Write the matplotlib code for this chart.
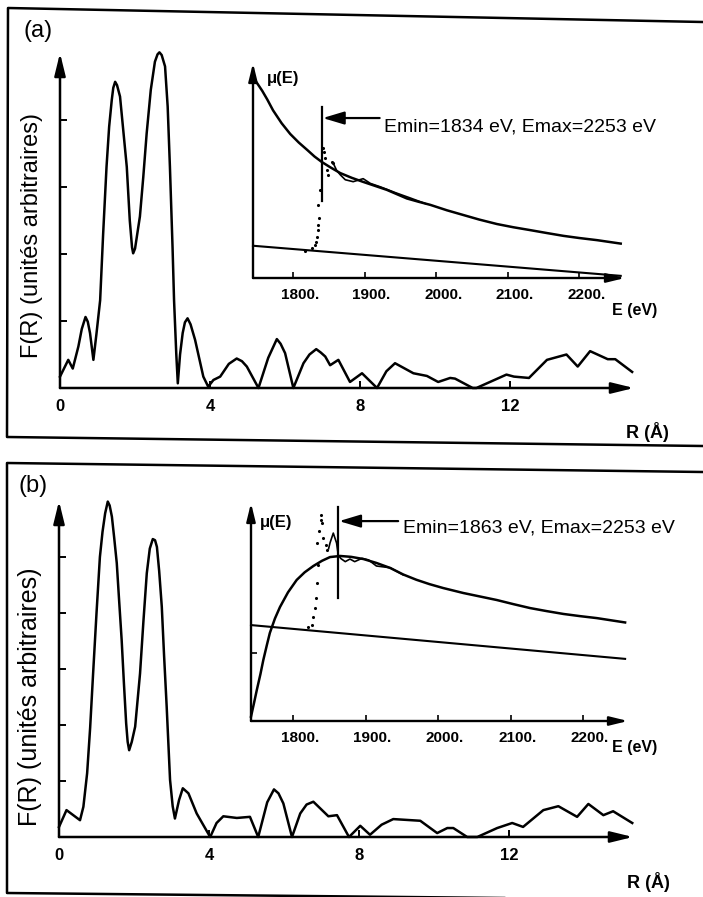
import matplotlib
matplotlib.use("Agg")
import matplotlib.pyplot as plt
from matplotlib.lines import Line2D
from matplotlib.transforms import ScaledTranslation

plt.rcParams['font.family'] = ['Liberation Sans', 'DejaVu Sans']

# ---------------- data ----------------
# panel (a): Fourier transform F(R)
R_a = [0, 0.22, 0.34, 0.49, 0.58, 0.68, 0.74, 0.80, 0.89, 0.97, 1.07, 1.15, 1.24, 1.31,
       1.38, 1.42, 1.47, 1.52, 1.60, 1.66, 1.78, 1.86, 1.92, 1.95, 2.00, 2.13, 2.22,
       2.31, 2.42, 2.53, 2.60, 2.65, 2.71, 2.80, 2.87, 2.93, 3.00, 3.04, 3.10, 3.14,
       3.20, 3.27, 3.33, 3.40, 3.48, 3.60, 3.72, 3.82, 3.95,
       4.09, 4.27, 4.50, 4.71, 4.85, 4.98, 5.29, 5.55, 5.78, 5.88, 6.00, 6.22, 6.49,
       6.65, 6.83, 6.95, 7.07, 7.20, 7.42,
       7.73, 8.05, 8.45, 8.70, 8.93, 9.42, 9.78, 10.08, 10.40, 10.53, 11.00, 11.10,
       11.50, 11.90, 12.10, 12.50, 12.98, 13.50, 13.80, 14.13, 14.60, 14.80, 15.25]
F_a = [0.17, 0.42, 0.29, 0.62, 0.88, 1.06, 0.99, 0.82, 0.42, 0.80, 1.31, 2.30, 3.30, 3.90,
       4.30, 4.48, 4.57, 4.52, 4.35, 4.00, 3.30, 2.50, 2.10, 2.01, 2.08, 2.56, 3.15,
       3.80, 4.45, 4.87, 4.98, 5.01, 4.97, 4.80, 4.20, 3.30, 2.10, 1.31, 0.50, 0.07,
       0.50, 0.82, 0.98, 1.04, 0.95, 0.72, 0.42, 0.17, 0.02,
       0.12, 0.17, 0.36, 0.44, 0.40, 0.32, 0.00, 0.45, 0.73, 0.66, 0.52, 0.00, 0.37,
       0.50, 0.58, 0.53, 0.47, 0.34, 0.42,
       0.09, 0.22, 0.00, 0.25, 0.37, 0.22, 0.18, 0.09, 0.15, 0.14, 0.00, 0.00,
       0.10, 0.20, 0.17, 0.15, 0.42, 0.50, 0.32, 0.55, 0.43, 0.43, 0.24]

# panel (b): Fourier transform F(R)
R_b = [0, 0.20, 0.56, 0.65, 0.75, 0.83, 0.91, 1.00, 1.09, 1.16, 1.23, 1.30, 1.35, 1.41,
       1.47, 1.54, 1.60, 1.67, 1.73, 1.79, 1.83, 1.87, 1.94, 2.03, 2.16, 2.25, 2.34,
       2.42, 2.50, 2.56, 2.61, 2.67, 2.74, 2.80, 2.87, 2.96, 3.03, 3.09, 3.20, 3.30,
       3.45, 3.67, 4.03, 4.20, 4.38, 4.74, 5.09, 5.31, 5.55, 5.73, 5.85, 5.98, 6.21,
       6.43, 6.60, 6.78, 7.18, 7.41, 7.73,
       8.03, 8.29, 8.60, 8.91, 9.63, 10.08, 10.35, 10.51, 10.88, 11.15, 11.68, 12.08,
       12.37, 12.91, 13.31, 13.81, 14.11, 14.51, 14.77, 15.28]
F_b = [0.18, 0.48, 0.30, 0.54, 1.14, 1.95, 2.93, 4.00, 5.00, 5.45, 5.78, 5.99, 5.92, 5.72,
       5.35, 4.89, 4.25, 3.52, 2.75, 2.03, 1.70, 1.55, 1.70, 1.97, 2.92, 3.85, 4.71,
       5.15, 5.32, 5.30, 5.18, 4.75, 4.11, 3.25, 2.33, 1.02, 0.55, 0.33, 0.66, 0.87,
       0.78, 0.42, 0.00, 0.25, 0.37, 0.34, 0.36, 0.00, 0.62, 0.85, 0.78, 0.60, 0.00,
       0.42, 0.58, 0.63, 0.37, 0.39, 0.00,
       0.20, 0.04, 0.22, 0.32, 0.29, 0.07, 0.16, 0.16, 0.00, 0.00, 0.16, 0.25,
       0.18, 0.48, 0.55, 0.36, 0.59, 0.39, 0.46, 0.25]

R_ticks = [0, 4, 8, 12]
R_ticklabels = ['0', '4', '8', '12']

# inset (a): mu(E)
ins_a_E_fit = [1744, 1750, 1757, 1764, 1772, 1784, 1796, 1808, 1820, 1830, 1840, 1852,
               1866, 1882, 1898, 1915, 1931, 1945, 1959, 1975, 1992, 2015, 2038, 2060,
               2085, 2108, 2131, 2155, 2178, 2200, 2225, 2258]
ins_a_mu_fit = [0.93, 0.905, 0.87, 0.83, 0.78, 0.72, 0.67, 0.63, 0.595, 0.565, 0.54, 0.515,
                0.488, 0.466, 0.447, 0.428, 0.41, 0.39, 0.37, 0.355, 0.34, 0.315, 0.293,
                0.272, 0.251, 0.236, 0.223, 0.209, 0.196, 0.186, 0.176, 0.16]
ins_a_E_bg = [1744, 2258]
ins_a_mu_bg = [0.15, 0.01]
ins_a_E_dots = [1817, 1826, 1830, 1832, 1833, 1834.5, 1835.3, 1836.3, 1835.5, 1837.7,
                1842, 1843, 1844, 1847.5, 1849, 1854, 1856]
ins_a_mu_dots = [0.126, 0.14, 0.155, 0.167, 0.19, 0.223, 0.247, 0.279, 0.34, 0.41,
                 0.605, 0.586, 0.56, 0.50, 0.48, 0.54, 0.535]
ins_a_E_data = [1856, 1861, 1866, 1873, 1884, 1898, 1908, 1922, 1943, 1964, 1985]
ins_a_mu_data = [0.535, 0.50, 0.48, 0.457, 0.448, 0.462, 0.44, 0.424, 0.397, 0.372, 0.346]
ins_a_emin_line = 1840
ins_a_label = 'Emin=1834 eV, Emax=2253 eV'

# inset (b): mu(E)
ins_b_E_fit = [1742, 1746, 1750, 1755, 1759, 1764, 1768, 1775, 1782, 1793, 1805, 1816,
               1828, 1840, 1851, 1865, 1880, 1897, 1915, 1934, 1952, 1970, 1988, 2007,
               2035, 2058, 2081, 2104, 2127, 2150, 2173, 2196, 2219, 2258]
ins_b_mu_fit = [0.02, 0.08, 0.142, 0.215, 0.28, 0.35, 0.404, 0.47, 0.523, 0.59, 0.647,
                0.682, 0.711, 0.735, 0.752, 0.757, 0.753, 0.743, 0.725, 0.702, 0.672,
                0.648, 0.628, 0.61, 0.587, 0.571, 0.555, 0.536, 0.518, 0.504, 0.491,
                0.481, 0.472, 0.452]
ins_b_E_bg = [1742, 2258]
ins_b_mu_bg = [0.44, 0.285]
ins_b_E_dots = [1821, 1826, 1828, 1830, 1831.6, 1833, 1834, 1832.6, 1836, 1838, 1838,
                1839.5, 1841.7, 1845.4, 1847]
ins_b_mu_dots = [0.433, 0.44, 0.477, 0.52, 0.563, 0.632, 0.716, 0.817, 0.87, 0.92, 0.945,
                 0.908, 0.84, 0.807, 0.784]
ins_b_E_data = [1849, 1851, 1855.5, 1860, 1862.4, 1866, 1872, 1878.5, 1885, 1895, 1904,
                1915, 1934, 1952]
ins_b_mu_data = [0.79, 0.817, 0.862, 0.817, 0.761, 0.745, 0.731, 0.743, 0.731, 0.746,
                 0.739, 0.711, 0.703, 0.67]
ins_b_emin_line = 1862
ins_b_label = 'Emin=1863 eV, Emax=2253 eV'

E_ticks = [1800, 1900, 2000, 2100, 2200]
E_ticklabels = ['1800.', '1900.', '2000.', '2100.', '2200.']

# ---------------- layout helpers ----------------
W, H = 703, 897
fig = plt.figure(figsize=(W / 100, H / 100), dpi=100)


def box(l, t, r, b):
    return [l / W, 1 - b / H, (r - l) / W, (b - t) / H]


def fig_line(pts, lw=1.8):
    fig.add_artist(Line2D([p[0] / W for p in pts], [1 - p[1] / H for p in pts],
                          transform=fig.transFigure, color='k', lw=lw))


def axis_arrows(ax, ms, lw=1.8):
    kw = dict(arrowstyle='-|>,head_length=0.9,head_width=0.22', lw=lw, color='k',
              shrinkA=0, shrinkB=0, mutation_scale=ms)
    ax.annotate('', xy=(1, 0), xytext=(0, 0), xycoords='axes fraction',
                arrowprops=kw, annotation_clip=False)
    ax.annotate('', xy=(0, 1), xytext=(0, 0), xycoords='axes fraction',
                arrowprops=kw, annotation_clip=False)


def main_panel(rect, R, F, ymax, nticks):
    ax = fig.add_axes(rect)
    ax.set_facecolor('none')
    for s in ax.spines.values():
        s.set_visible(False)
    ax.plot(R, F, color='k', lw=1.8, clip_on=False, solid_joinstyle='round')
    ax.set_xlim(0, 15.3)
    ax.set_ylim(0, ymax)
    ax.set_xticks(R_ticks)
    ax.set_xticklabels(R_ticklabels, fontweight='bold', fontsize=12)
    ax.set_yticks(list(range(1, nticks + 1)))
    ax.set_yticklabels([])
    ax.tick_params(direction='in', length=5, width=1.4, pad=8)
    axis_arrows(ax, 15)
    return ax


def inset_panel(rect, xlim, Efit, mufit, Ebg, mubg, Ed, mud, Edat, mudat,
                eline, ylo, yhi, yarrow, xarrow0, label, ytxt):
    ax = fig.add_axes(rect)
    ax.set_facecolor('none')
    for s in ax.spines.values():
        s.set_visible(False)
    ax.plot(Efit, mufit, color='k', lw=1.8, clip_on=False, solid_joinstyle='round')
    ax.plot(Ebg, mubg, color='k', lw=1.5, clip_on=False)
    ax.scatter(Ed, mud, s=5, color='k', clip_on=False, linewidths=0)
    ax.plot(Edat, mudat, color='k', lw=1.2, clip_on=False)
    ax.plot([eline, eline], [ylo, yhi], color='k', lw=1.6, clip_on=False)
    ax.annotate('', xy=(eline + 1.5, yarrow), xytext=(xarrow0, yarrow),
                arrowprops=dict(arrowstyle='-|>,head_length=1.0,head_width=0.3',
                                lw=1.6, color='k', shrinkA=0, shrinkB=0,
                                mutation_scale=13),
                annotation_clip=False)
    ax.text(xarrow0 + 6, ytxt, label, fontsize=14, ha='left', va='center')
    ax.set_xlim(*xlim)
    ax.set_ylim(0, 1)
    ax.set_xticks(E_ticks)
    ax.set_xticklabels(E_ticklabels, fontweight='bold', fontsize=11)
    ax.tick_params(axis='x', direction='in', length=4, width=1.2, pad=7)
    off = ScaledTranslation(7 / 100, 0, fig.dpi_scale_trans)
    for lab in ax.get_xticklabels():
        lab.set_transform(lab.get_transform() + off)
    axis_arrows(ax, 12, lw=1.7)
    return ax


# ---------------- panel (a) ----------------
fig_line([(703, 22), (8, 8), (7, 437), (703, 446)])
main_panel(box(60, 53, 634, 388), R_a, F_a, 5.0, 4)
ia = inset_panel(box(253, 63, 625, 278), (1744, 2264), ins_a_E_fit, ins_a_mu_fit,
                 ins_a_E_bg, ins_a_mu_bg, ins_a_E_dots, ins_a_mu_dots,
                 ins_a_E_data, ins_a_mu_data, ins_a_emin_line, 0.36, 0.795,
                 0.744, 1921, ins_a_label, 0.70)
ia.set_yticks([])
fig.text(267 / W, 1 - 78 / H, 'μ(E)', fontsize=12, fontweight='bold',
         ha='left', va='center')
fig.text(612 / W, 1 - 311 / H, 'E (eV)', fontsize=11.5, fontweight='bold',
         ha='left', va='center')
fig.text(647 / W, 1 - 432 / H, 'R (Å)', fontsize=13, fontweight='bold',
         ha='center', va='center')
fig.text(32 / W, 1 - 236 / H, 'F(R) (unités arbitraires)', fontsize=17,
         rotation=90, ha='center', va='center')
fig.text(38 / W, 1 - 31 / H, '(a)', fontsize=17, ha='center', va='center')

# ---------------- panel (b) ----------------
fig_line([(703, 472), (7, 463), (7, 893), (703, 900)])
main_panel(box(59, 501, 633, 837), R_b, F_b, 6.0, 5)
ib = inset_panel(box(251, 503, 628, 721), (1742, 2262), ins_b_E_fit, ins_b_mu_fit,
                 ins_b_E_bg, ins_b_mu_bg, ins_b_E_dots, ins_b_mu_dots,
                 ins_b_E_data, ins_b_mu_data, ins_b_emin_line, 0.564, 0.98,
                 0.917, 1945, ins_b_label, 0.885)
ib.set_yticks([0.31])
ib.set_yticklabels([])
ib.tick_params(axis='y', direction='in', length=4, width=1.2)
fig.text(260 / W, 1 - 522 / H, 'μ(E)', fontsize=12, fontweight='bold',
         ha='left', va='center')
fig.text(612 / W, 1 - 747 / H, 'E (eV)', fontsize=11.5, fontweight='bold',
         ha='left', va='center')
fig.text(648 / W, 1 - 882 / H, 'R (Å)', fontsize=13, fontweight='bold',
         ha='center', va='center')
fig.text(30 / W, 1 - 697 / H, 'F(R) (unités arbitraires)', fontsize=18,
         rotation=90, ha='center', va='center')
fig.text(33 / W, 1 - 486 / H, '(b)', fontsize=17, ha='center', va='center')

fig.savefig('out.png', dpi=100)
